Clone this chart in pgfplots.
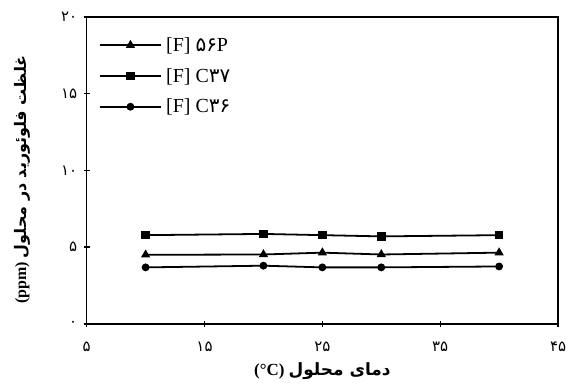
\documentclass[border=0pt]{standalone}
\usepackage{fontspec}
\usepackage{pgfplots}
\pgfplotsset{compat=1.18}
\setmainfont{Liberation Serif}
\newfontfamily\arabicfont[Script=Arabic]{DejaVu Sans}
\TeXXeTstate=1
\newcommand\fa[1]{{\arabicfont #1}}

\begin{document}
\begin{tikzpicture}
\useasboundingbox (-87pt,-63pt) rectangle (481pt,325pt);
\begin{axis}[
  at={(0,0)}, anchor=south west,
  scale only axis, width=473pt, height=308pt,
  xmin=5, xmax=45, ymin=0, ymax=20,
  xtick={5,15,25,35,45},
  xticklabels={\fa{۵},\fa{۱۵},\fa{۲۵},\fa{۳۵},\fa{۴۵}},
  ytick={0,5,10,15,20},
  yticklabels={\fa{۰},\fa{۵},\fa{۱۰},\fa{۱۵},\fa{۲۰}},
  tick align=center, xtick pos=bottom, ytick pos=left,
  major tick length=6pt,
  axis line style={line width=1.6pt},
  every tick/.style={line width=1.3pt, black},
  tick label style={font=\fontsize{15}{17}\selectfont},
  xticklabel style={yshift=-12pt},
  yticklabel style={xshift=-3pt},
  xlabel={\fontsize{17}{19}\selectfont\bfseries (°C) \arabicfont\beginR دمای محلول\endR},
  ylabel={\fontsize{16}{18}\selectfont\bfseries (ppm) \arabicfont\beginR غلظت فلوئورید در محلول\endR},
  xlabel style={at={(axis description cs:0.5,-0.1526)}, anchor=center},
  ylabel style={at={(axis description cs:-0.1374,0.47)}, anchor=center},
  legend style={at={(axis description cs:0.025,0.94)}, anchor=north west,
    draw=none, fill=none, font=\fontsize{20}{22}\selectfont,
    row sep=11.5pt, inner sep=0pt,
    nodes={inner xsep=4pt}},
  legend cell align=left,
  legend image code/.code={%
    \draw[mark repeat=2,mark phase=2,line width=1.8pt,#1]
      plot coordinates {(0pt,0pt) (31pt,0pt) (62pt,0pt)};},
  every axis plot/.append style={black, line width=1.8pt},
]
\addplot[mark=triangle*, mark size=3.6pt, mark options={solid}] coordinates {
  (10,4.50) (20,4.52) (25,4.64) (30,4.52) (40,4.64)};
\addlegendentry{[F] \fa{۵۶}P}
\addplot[mark=square*, mark size=3.4pt, mark options={solid}] coordinates {
  (10,5.78) (20,5.86) (25,5.78) (30,5.70) (40,5.78)};
\addlegendentry{[F] C\fa{۳۷}}
\addplot[mark=*, mark size=3.0pt, mark options={solid}] coordinates {
  (10,3.68) (20,3.79) (25,3.68) (30,3.68) (40,3.74)};
\addlegendentry{[F] C\fa{۳۶}}
\end{axis}
\end{tikzpicture}
\end{document}
